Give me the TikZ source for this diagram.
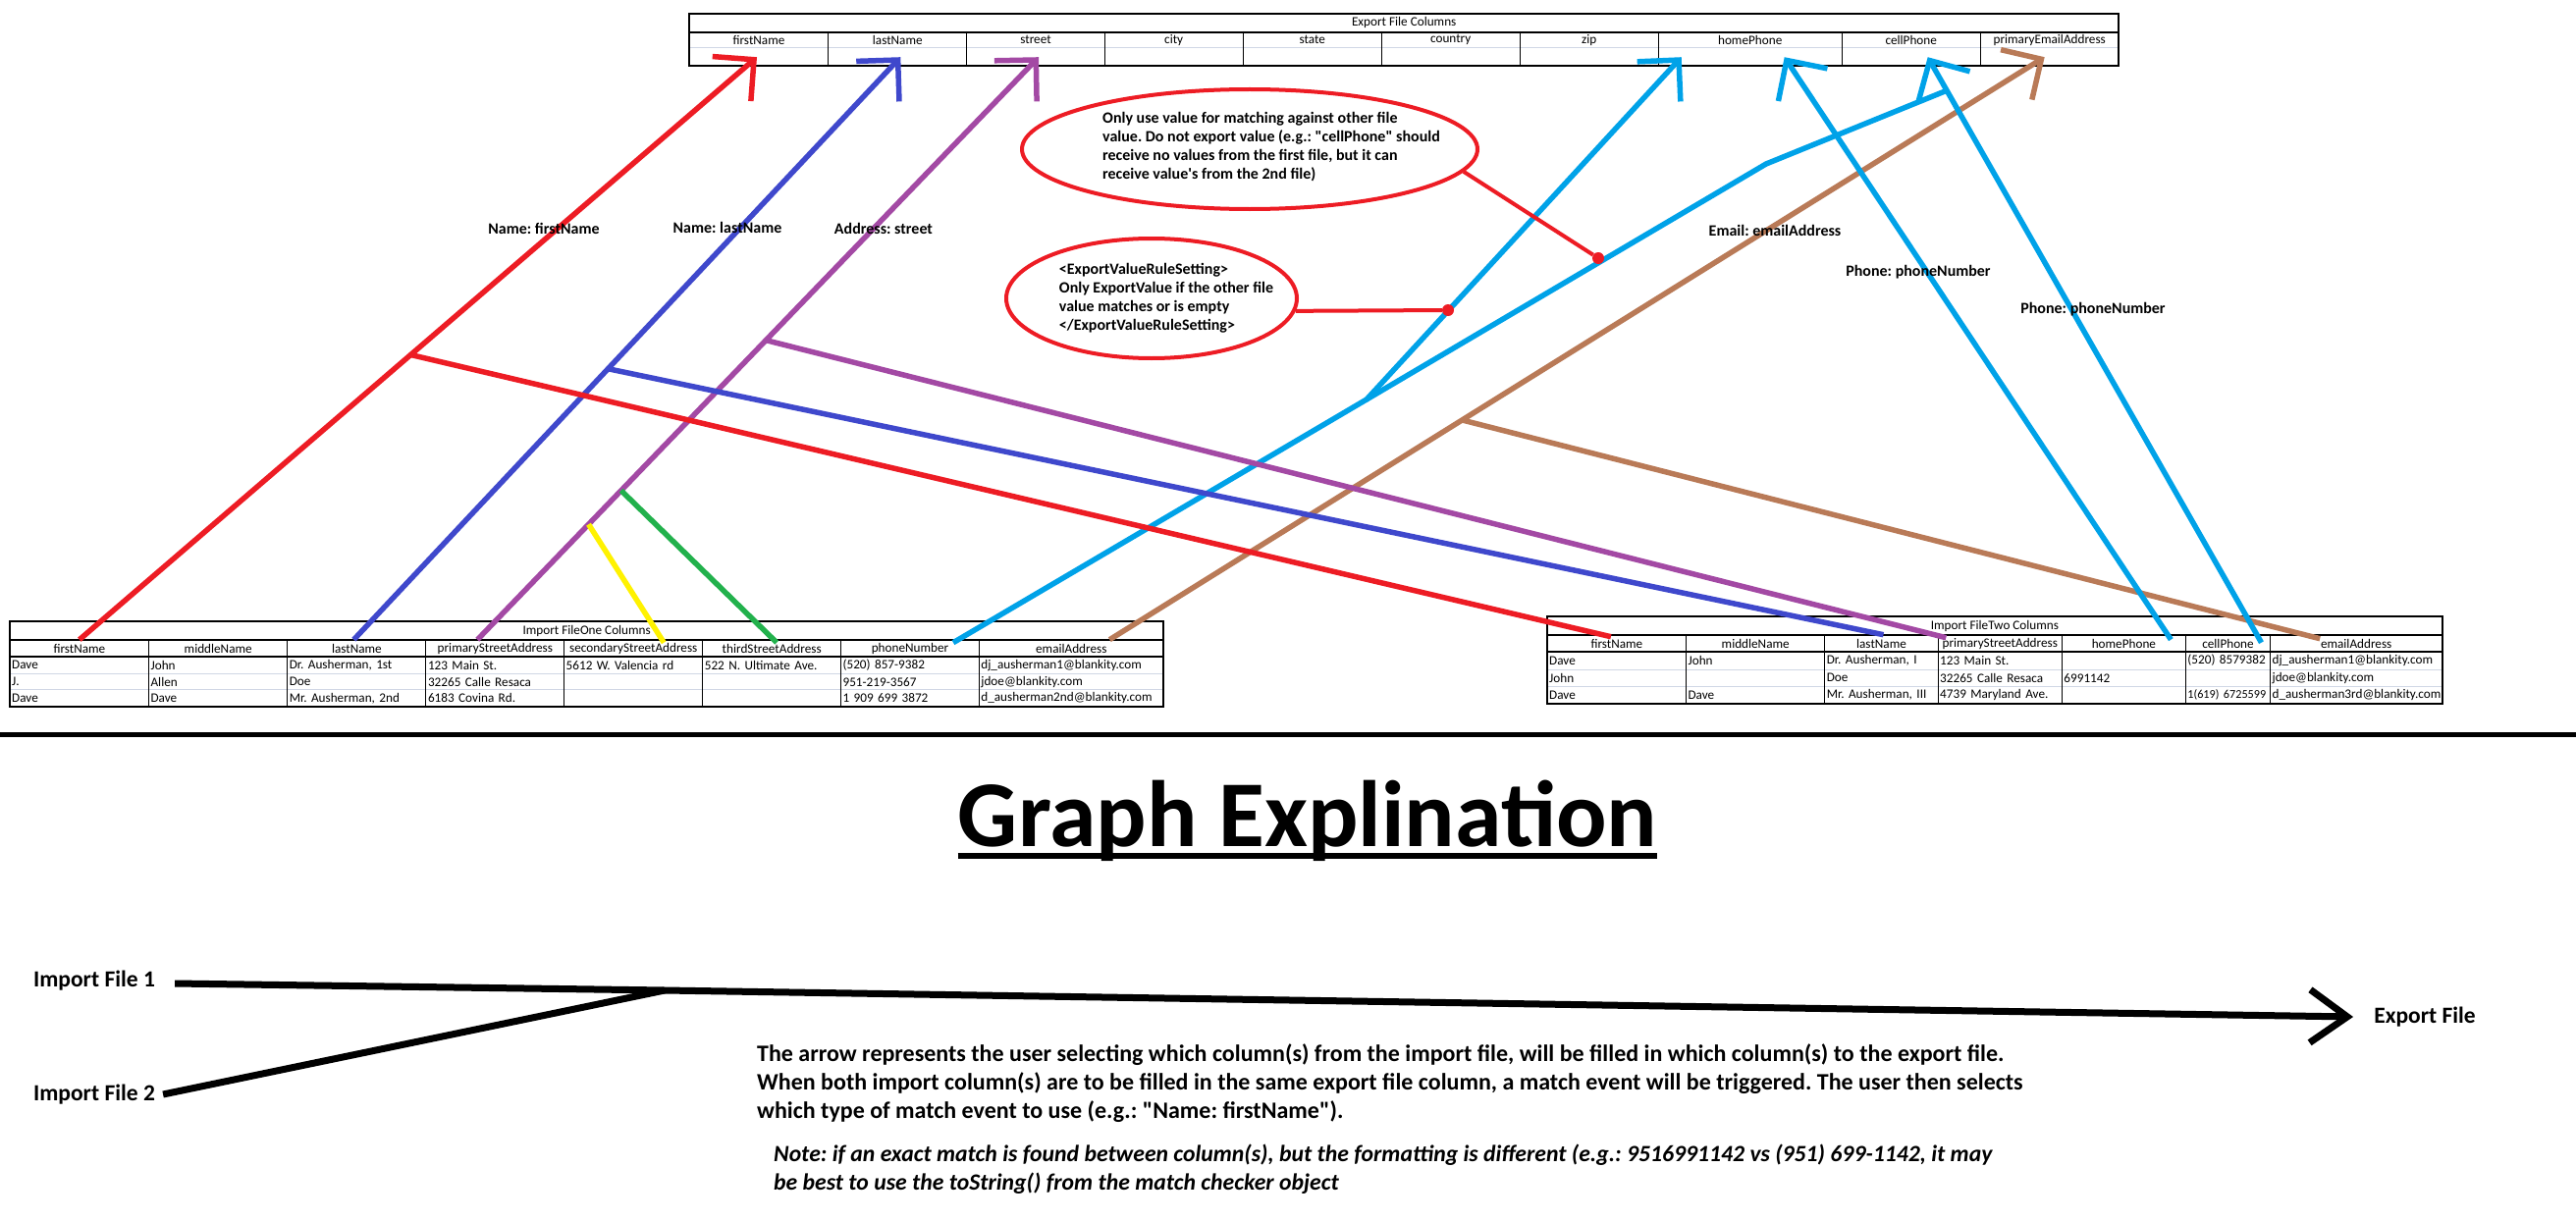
\documentclass[tikz,border=0pt]{standalone}
\usepackage{fontspec}
\setmainfont{Carlito}
\frenchspacing
\usetikzlibrary{positioning,arrows.meta,shapes.geometric,calc}
\definecolor{pred}{RGB}{237,28,36}
\definecolor{pblue}{RGB}{63,72,204}
\definecolor{ppurple}{RGB}{163,73,164}
\definecolor{pyellow}{RGB}{255,242,0}
\definecolor{pgreen}{RGB}{34,177,76}
\definecolor{pcyan}{RGB}{0,162,232}
\definecolor{pbrown}{RGB}{185,122,87}
\definecolor{xlgrid}{RGB}{208,215,229}

\begin{document}
\begin{tikzpicture}[
  x=1pt, y=-1pt,
  tabfont/.style={font=\fontsize{13.2}{15}\selectfont},
  titlecell/.style={tabfont, anchor=north west, inner sep=0, minimum height=18.4pt},
  headcell/.style={tabfont, anchor=north west, inner sep=0, minimum height=17.3pt},
  datacell/.style={tabfont, anchor=north west, inner xsep=2pt, inner ysep=0, minimum height=17pt, align=left},
  tabframe/.style={line width=2pt},
  colsep/.style={line width=1pt},
  rowsep/.style={xlgrid, line width=1pt},
  maparrow/.style={line width=5.5pt, -{Straight Barb[length=30pt,width=60pt]}},
  matchline/.style={line width=5.5pt},
  maplabel/.style={font=\fontsize{16}{19}\selectfont\bfseries},
  callout/.style={ellipse, draw=pred, line width=4pt},
  calltext/.style={font=\fontsize{16}{19}\selectfont\bfseries, align=left},
  calloutline/.style={pred, line width=4pt},
  dotmark/.style={circle, fill=pred, minimum size=12pt, inner sep=0},
  flowlabel/.style={font=\fontsize{23.5}{28}\selectfont\bfseries, inner sep=0},
  flowline/.style={line width=7pt},
  flowarrow/.style={line width=7pt, -{Straight Barb[length=38pt,width=54pt]}},
  desc/.style={font=\fontsize{24}{29}\selectfont\bfseries, align=left, inner sep=0, anchor=north west}
]
\useasboundingbox (0,0) rectangle (2624,1244);

% EXPORT TABLE
\node[titlecell, minimum width=1456pt] (Etitle) at (702,14) {Export File Columns};
\foreach \c/\x/\w/\h in {1/702/141.6/firstName, 2/843.6/141/lastName, 3/984.6/140.4/street,
  4/1125/141/city, 5/1266/141/state, 6/1407/141/country, 7/1548/141/zip,
  8/1689/187/homePhone, 9/1876/141/cellPhone, 10/2017/141/primaryEmailAddress}{
  \node[headcell, minimum width=\w pt] (EH\c) at (\x,32) {\h};
  \node[headcell, minimum width=\w pt, minimum height=18pt] (ED\c) at (\x,49) {};
  \draw[rowsep] (ED\c.north west) -- (ED\c.north east);
  \draw[colsep] (EH\c.north west) -- (ED\c.south west);
}
\draw[tabframe] (Etitle.north west) rectangle (ED10.south east);
\draw[tabframe] (Etitle.south west) -- (Etitle.south east);

% IMPORT FILE ONE
\node[titlecell, minimum width=1175pt] (Atitle) at (10,633.3) {Import FileOne Columns};
\foreach \c/\x/\w/\h/\ra/\rb/\rc in {
  1/10/141.4/firstName/Dave/J./Dave,
  2/151.4/141.2/middleName/John/Allen/Dave,
  3/292.6/141.2/lastName/{Dr. Ausherman, 1st}/Doe/{Mr. Ausherman, 2nd},
  4/433.8/140.7/primaryStreetAddress/123 Main St./32265 Calle Resaca/6183 Covina Rd.,
  5/574.5/141.1/secondaryStreetAddress/5612 W. Valencia rd/{}/{},
  6/715.6/140.8/thirdStreetAddress/522 N. Ultimate Ave./{}/{},
  7/856.4/140.8/phoneNumber/(520) 857-9382/951-219-3567/1 909 699 3872,
  8/997.2/187.8/emailAddress/dj\_ausherman1@blankity.com/jdoe@blankity.com/d\_ausherman2nd@blankity.com}{
  \pgfmathsetmacro{\tw}{\w-4}
  \node[headcell, minimum width=\w pt] (AH\c) at (\x,651.7) {\h};
  \node[datacell, text width=\tw pt] (A1\c) at (\x,669) {\mbox{\ra}};
  \node[datacell, text width=\tw pt] (A2\c) at (\x,686) {\mbox{\rb}};
  \node[datacell, text width=\tw pt] (A3\c) at (\x,702.7) {\mbox{\rc}};
  \draw[rowsep] (A2\c.north west) -- (A2\c.north east) (A3\c.north west) -- (A3\c.north east);
  \draw[colsep] (AH\c.north west) -- (A3\c.south west);
}
\draw[tabframe] (Atitle.north west) rectangle (A38.south east);
\draw[tabframe] (Atitle.south west) -- (Atitle.south east) (AH1.south west) -- (AH8.south east);

% IMPORT FILE TWO
\node[titlecell, minimum width=911.5pt] (Btitle) at (1576,628.3) {Import FileTwo Columns};
\foreach \c/\x/\w/\h/\ra/\rb/\rc in {
  1/1576/141.4/firstName/Dave/John/Dave,
  2/1717.4/141.2/middleName/John/{}/Dave,
  3/1858.6/115.4/lastName/{Dr. Ausherman, I}/Doe/{Mr. Ausherman, III},
  4/1974/126.2/primaryStreetAddress/123 Main St./32265 Calle Resaca/4739 Maryland Ave.,
  5/2100.2/126/homePhone/{}/6991142/{},
  6/2226.2/86.2/cellPhone/(520) 8579382/{}/{\fontsize{12.2}{15}\selectfont 1(619) 6725599},
  7/2312.4/175.1/emailAddress/dj\_ausherman1@blankity.com/jdoe@blankity.com/d\_ausherman3rd@blankity.com}{
  \pgfmathsetmacro{\tw}{\w-4}
  \node[headcell, minimum width=\w pt] (BH\c) at (\x,646.7) {\h};
  \node[datacell, text width=\tw pt] (B1\c) at (\x,664.3) {\mbox{\ra}};
  \node[datacell, text width=\tw pt] (B2\c) at (\x,682) {\mbox{\rb}};
  \node[datacell, text width=\tw pt] (B3\c) at (\x,699.3) {\mbox{\rc}};
  \draw[rowsep] (B2\c.north west) -- (B2\c.north east) (B3\c.north west) -- (B3\c.north east);
  \draw[colsep] (BH\c.north west) -- (B3\c.south west);
}
\draw[tabframe] (Btitle.north west) rectangle (B37.south east);
\draw[tabframe] (Btitle.south west) -- (Btitle.south east) (BH1.south west) -- (BH7.south east);

% MAPPINGS FROM FILE ONE
\draw[maparrow, pred] (AH1.north) -- coordinate[pos=0.489] (jfirst) ([xshift=-2pt]ED1.center);
\draw[maparrow, pblue] ([xshift=-3pt]AH3.north) -- coordinate[pos=0.465] (jlast) ([xshift=3pt]ED2.center);
\draw[maparrow, ppurple] ([xshift=-18pt]AH4.north) -- coordinate[pos=0.514] (jstreet)
  coordinate[pos=0.198] (jsecond) coordinate[pos=0.256] (jthird) ([xshift=3pt]ED3.center);
\draw[matchline, pyellow] ([xshift=31pt,yshift=-3pt]AH5.north) -- (jsecond);
\draw[matchline, pgreen] ([xshift=5pt,yshift=-3pt]AH6.north) -- (jthird);
\draw[maparrow, pbrown] ([xshift=39pt]AH8.north) -- coordinate[pos=0.377] (jemail) ([xshift=-5pt]ED10.center);
\coordinate (pbend) at (1392,407);
\coordinate (pkink) at (1799,167);
\draw[maparrow, pcyan] ([xshift=44pt,yshift=-3pt]AH7.north) -- (pbend) -- ([xshift=-70pt]ED8.center);

% MAPPINGS FROM FILE TWO
\draw[matchline, pred] ([xshift=-6pt,yshift=-2pt]BH1.north) -- (jfirst);
\draw[matchline, pblue] ([xshift=2pt]BH3.north) -- (jlast);
\draw[matchline, ppurple] ([xshift=-55pt,yshift=-3pt]BH4.north) -- (jstreet);
\draw[matchline, pbrown] ([xshift=-37pt,yshift=-4pt]BH7.north) -- (jemail);
\draw[maparrow, pcyan] ([xshift=48pt,yshift=-5pt]BH5.north) -- ([xshift=35pt]ED8.center);
\draw[maparrow, pcyan] ([xshift=34pt,yshift=-8pt]BH6.north) -- coordinate[pos=0.943] (jcell) ([xshift=17pt]ED9.center);
\draw[matchline, pcyan] (pbend) -- (pkink) -- (jcell);

% MATCH LABELS
\node[maplabel] (lfirst) at (554,233) {Name: firstName};
\node[maplabel] (llast) at (741,232) {Name: lastName};
\node[maplabel] (lstreet) at (900,233) {Address: street};
\node[maplabel] (lemail) at (1808,235) {Email: emailAddress};
\node[maplabel] (lphone1) at (1954,277) {Phone: phoneNumber};
\node[maplabel] (lphone2) at (2132,315) {Phone: phoneNumber};

% CALLOUTS
\node[callout, minimum width=464pt, minimum height=122pt] (ell1) at (1273,152) {};
\node[calltext] (txt1) at (1295,150) {Only use value for matching against other file\\value. Do not export value (e.g.: \textquotedbl cellPhone\textquotedbl\ should\\receive no values from the first file, but it can\\receive value\textquotesingle s from the 2nd file)};
\node[callout, minimum width=296pt, minimum height=122pt] (ell2) at (1173,304) {};
\node[calltext] (txt2) at (1188,304) {<ExportValueRuleSetting>\\Only ExportValue if the other file\\value matches or is empty\\</ExportValueRuleSetting>};
\node[dotmark] (dot1) at (1628,263) {};
\node[dotmark] (dot2) at (1475,316) {};
\draw[calloutline] (ell1.-6) -- (dot1);
\draw[calloutline] (ell2.-5) -- (dot2);

% SEPARATOR
\draw[line width=5pt] (0,748) -- (2624,748);

% GRAPH EXPLINATION
\node[font=\fontsize{96}{110}\selectfont\bfseries, inner sep=0, anchor=base] (gtitle) at (1332,862) {Graph Explination};
\draw[line width=6pt] ([yshift=-10pt]gtitle.base west) -- ([yshift=-10pt]gtitle.base east);

% FLOW
\node[flowlabel] (imp1) at (96,999) {Import File 1};
\node[flowlabel] (imp2) at (96,1115) {Import File 2};
\node[flowlabel] (expf) at (2470,1036) {Export File};
\coordinate (merge) at (677,1009);
\draw[flowline] ([xshift=20pt,yshift=-3pt]imp1.east) -- (merge);
\draw[flowline] ([xshift=8pt]imp2.east) -- (merge);
\draw[flowarrow] (merge) -- ([xshift=-21pt]expf.west);

% TEXT
\node[desc] (desc) at (771,1063) {The arrow represents the user selecting which column(s) from the import file, will be filled in which column(s) to the export file.\\When both import column(s) are to be filled in the same export file column, a match event will be triggered. The user then selects\\which type of match event to use (e.g.: \textquotedbl Name: firstName\textquotedbl).};
\node[desc, font=\fontsize{23.7}{29}\selectfont\bfseries\itshape] (note) at (788,1166) {Note: if an exact match is found between column(s), but the formatting is different (e.g.: 9516991142 vs (951) 699-1142, it may\\be best to use the toString() from the match checker object};

\end{tikzpicture}
\end{document}
